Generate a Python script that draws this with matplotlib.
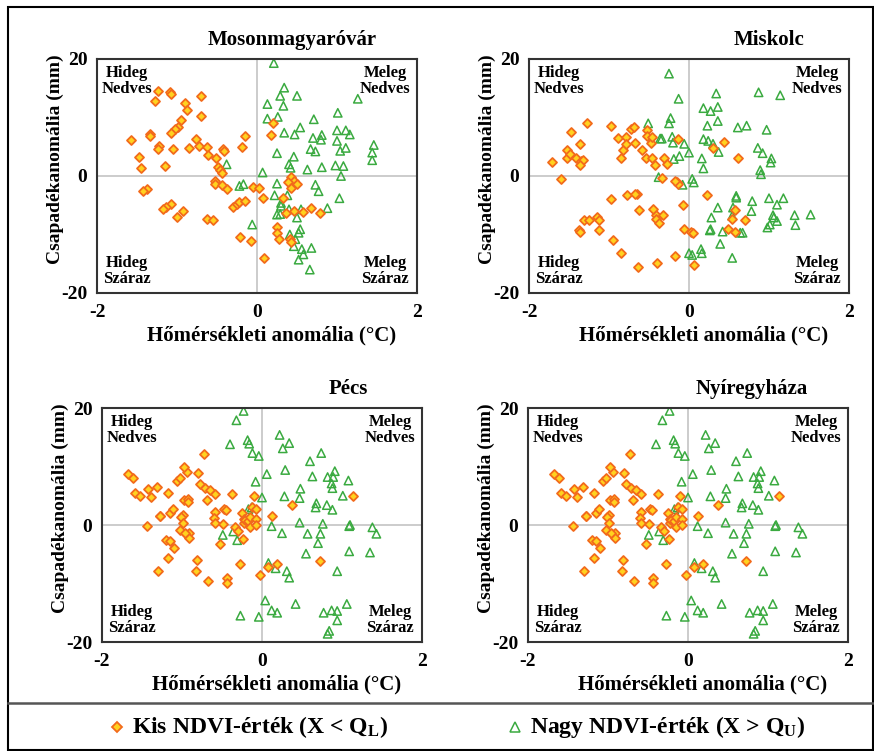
import matplotlib
matplotlib.use('Agg')
from matplotlib import pyplot as plt
from matplotlib.patches import Rectangle
from matplotlib.lines import Line2D

# Mosonmagyaróvár
moson_kis_x = [-1.24, -1.09, -1.07, -1.28, -0.70, -0.90, -0.87, -0.70, -0.95, -0.99,
               -1.02, -1.07, -1.34, -1.34, -1.58, -0.76, -1.23, -1.24, -1.05, -0.85,
               -0.72, -0.63, -0.61, -0.43, -0.41, -0.19, -0.15, -1.47, -1.45, -1.15,
               -0.51, -0.49, -0.46, -0.44, -0.53, -0.52, -0.44, -0.37, -1.38, -1.42,
               -1.08, -1.14, -1.18, -0.93, -1.00, -0.63, -0.55, -0.30, -0.25, -0.22,
               -0.15, -0.05, 0.02, 0.07, -0.21, -0.07, 0.09, 0.20, 0.18, 0.43,
               0.46, 0.50, 0.39, 0.42, 0.32, 0.25, 0.25, 0.28, 0.41, 0.43,
               0.36, 0.46, 0.57, 0.67, 0.79]
moson_kis_y = [14.6, 14.4, 14.1, 12.8, 13.6, 12.4, 11.2, 10.3, 9.5, 8.4,
               8.1, 7.3, 7.2, 6.8, 6.1, 6.4, 5.2, 4.7, 4.7, 4.8,
               5.1, 5.0, 3.6, 4.7, 4.2, 4.9, 6.8, 3.2, 1.4, 1.7,
               3.0, 1.5, 1.1, 0.5, -0.8, -1.3, -1.5, -2.3, -2.3, -2.6,
               -4.8, -5.3, -5.6, -5.9, -7.0, -7.3, -7.6, -5.3, -4.8, -4.4,
               -4.3, -1.8, -2.1, -3.8, -10.4, -11.1, -14.1, 9.0, 7.0, -0.2,
               -0.9, -1.4, -1.0, -2.1, -3.8, -8.7, -9.7, -10.7, -10.8, -11.3,
               -6.4, -6.0, -6.2, -5.4, -6.4]
moson_nagy_x = [0.21, 0.34, 0.29, 0.50, 1.26, 0.13, 0.33, 0.13, 0.26, 0.71,
                1.01, 0.54, 0.34, 0.47, 0.70, 0.81, 0.80, 1.00, 1.11, 1.16,
                1.00, 1.04, 1.11, 0.67, 0.73, 1.46, 1.44, 1.44, 0.25, 0.46,
                0.40, 0.42, 0.63, 0.81, 0.98, 1.08, 1.05, -0.38, 0.07, -0.17,
                -0.22, 0.73, 0.77, 1.03, 0.88, 0.25, 0.22, 0.38, 0.30, 0.30,
                0.40, 0.29, 0.25, 0.50, 0.55, -0.06, 0.41, 0.52, 0.54, 0.48,
                0.46, 0.56, 0.68, 0.58, 0.52, 0.66]
moson_nagy_y = [19.3, 15.1, 13.7, 13.7, 13.2, 12.3, 12.0, 9.8, 10.1, 9.7,
                10.8, 8.3, 7.4, 7.1, 6.5, 7.0, 6.2, 7.8, 7.8, 7.1,
                6.0, 4.3, 4.8, 4.6, 4.2, 5.3, 4.0, 2.7, 3.9, 3.3,
                2.0, 1.4, 1.1, 1.5, 1.8, 1.7, 0.0, 2.0, 0.6, -1.4,
                -1.7, -1.5, -2.6, -3.8, -5.5, -1.3, -3.3, -3.3, -4.6, -5.1,
                -5.7, -6.5, -6.6, -7.1, -5.7, -8.3, -10.0, -9.7, -9.1, -10.8,
                -12.0, -12.5, -12.3, -13.4, -14.3, -16.0]

# Miskolc
miskolc_kis_x = [-1.28, -1.48, -1.71, -1.52, -1.53, -1.49, -1.41, -1.35, -1.33, -1.36,
                 -1.36, -1.60, -0.98, -0.89, -0.85, -0.79, -0.82, -0.79, -0.73, -0.69,
                 -0.68, -0.59, -0.54, -0.52, -0.53, -0.47, -0.46, -0.46, -0.43, -0.31,
                 -0.28, -0.14, -0.34, -0.15, -0.14, -0.17, 0.30, 0.44, 0.61, 0.22,
                 -0.08, -0.41, -0.41, -0.37, -0.33, -0.45, -0.62, -0.77, -0.65, -0.67,
                 -0.98, -1.31, -1.25, -1.15, -1.12, -1.12, -1.38, -1.36, -0.95, -0.85,
                 -0.64, -0.40, -0.17, 0.06, -0.06, 0.03, 0.05, 0.54, 0.58, 0.70,
                 0.49, 0.57]
miskolc_kis_y = [9.0, 7.6, 2.4, 4.5, 3.0, 3.7, 3.0, 2.5, 2.8, 1.8,
                 5.4, -0.5, 8.6, 6.5, 3.0, 6.7, 4.4, 5.4, 8.1, 8.4,
                 5.7, 4.4, 3.0, 7.9, 6.9, 5.7, 6.7, 3.1, 1.9, 3.1,
                 2.1, 6.4, -0.3, -1.0, -1.3, -0.9, 4.8, 5.8, 3.1, -3.2,
                 -5.0, -6.6, -7.3, -8.0, -6.7, -5.7, -5.8, -3.3, -3.0, -3.0,
                 -3.9, -7.5, -7.6, -7.0, -7.5, -9.2, -9.2, -9.6, -11.0, -13.1,
                 -15.6, -14.9, -13.7, -15.2, -9.1, -9.6, -9.7, -7.4, -5.8, -7.6,
                 -9.1, -9.6]
miskolc_nagy_x = [-0.25, -0.13, 0.34, 0.87, 1.14, 0.18, 0.27, 0.36, 0.36, 0.23,
                  0.61, 0.72, 0.97, -0.23, -0.25, -0.51, -0.36, -0.34, -0.21, -0.20,
                  -0.06, 0.18, 0.24, 0.30, 0.37, 0.00, -0.12, -0.19, 0.16, 0.18,
                  0.86, 0.92, 1.03, 1.02, 0.89, 0.90, -0.38, -0.08, 0.04, 0.06,
                  0.59, 0.59, 0.36, 0.79, 0.78, 1.00, 1.10, 1.18, 1.05, 1.06,
                  1.10, 0.98, 1.01, 1.32, 1.52, 1.33, 0.28, 0.27, 0.26, 0.42,
                  0.54, 0.64, 0.67, 0.39, 0.00, 0.04, 0.15, 0.16, 0.54, 0.55]
miskolc_nagy_y = [17.5, 13.2, 14.1, 14.3, 13.8, 11.6, 11.1, 11.8, 9.4, 8.6,
                  8.3, 8.6, 7.9, 9.9, 9.0, 9.0, 6.4, 6.4, 6.7, 5.7,
                  5.5, 6.3, 6.0, 5.5, 4.1, 4.0, 3.4, 2.9, 3.0, 1.3,
                  4.8, 3.9, 3.0, 2.3, 1.0, 0.3, -0.2, -1.5, -0.5, -1.1,
                  -3.4, -3.7, -5.4, -4.3, -6.0, -3.8, -4.9, -3.8, -6.7, -7.1,
                  -7.7, -8.8, -8.3, -6.7, -6.6, -8.4, -7.1, -9.1, -9.3, -9.5,
                  -6.8, -9.7, -9.7, -11.6, -13.2, -13.5, -12.5, -13.2, -14.0, -5.4]

# Pécs
pecs_kis_x = [-1.67, -1.61, -1.59, -1.53, -1.39, -1.43, -1.31, -1.18, -1.28, -1.27,
              -1.15, -1.11, -1.44, -1.30, -1.17, -1.20, -1.15, -1.10, -0.99, -1.01,
              -0.99, -1.02, -0.95, -0.91, -0.91, -0.96, -0.97, -0.93, -0.92, -1.06,
              -1.02, -0.94, -0.98, -0.72, -0.80, -0.78, -0.71, -0.65, -0.59, -0.69,
              -0.81, -0.82, -0.68, -0.52, -0.44, -0.44, -0.59, -0.60, -0.59, -0.49,
              -0.48, -0.45, -0.37, -0.34, -0.30, -0.24, -0.23, -0.25, -0.23, -0.21,
              -0.17, -0.15, -0.15, -0.12, -0.10, -0.08, -0.08, -0.07, -0.27, -0.02,
              0.08, 0.19, 0.12, 0.38, 0.72, 1.14]
pecs_kis_y = [8.7, 8.0, 5.4, 5.0, 4.8, 6.1, 6.5, 5.5, 1.5, 1.6,
              2.0, 2.7, -0.2, -7.9, -5.6, -2.6, -2.7, -3.9, 1.7, 1.3,
              0.4, -0.9, -1.5, -1.3, -2.3, -1.3, 4.3, 4.4, 3.9, 7.5,
              8.1, 9.0, 10.0, 12.2, 8.9, 7.0, 6.3, 5.9, 5.3, 4.2,
              -6.0, -7.9, -9.5, -3.3, -9.0, -9.9, 2.3, 1.2, 0.3, 0.1,
              2.7, 2.6, 5.3, -0.4, -1.1, -2.4, 0.4, 2.0, 1.1, 0.8,
              0.6, -0.3, 1.4, 3.1, 5.0, 1.1, 0.0, 2.7, -6.7, -8.5,
              -7.1, -6.6, 1.5, 3.4, -6.2, 4.9]
pecs_nagy_x = [-0.23, -0.32, 0.22, 0.34, 0.26, -0.40, -0.18, -0.16, -0.12, -0.04,
               0.74, 0.60, 0.06, 0.29, 0.63, 0.82, 0.91, 0.89, 0.87, 0.88,
               1.08, 0.48, 0.47, 0.28, -0.08, 0.00, 1.01, 0.68, 0.67, 0.81,
               0.88, -0.13, -0.17, 0.47, 0.76, 1.09, 1.10, 1.38, 1.43, 0.12,
               0.25, 0.57, 0.73, 0.70, -0.49, -0.31, -0.36, 0.55, 1.09, 1.35,
               0.08, 0.17, 0.31, 0.34, 0.94, 0.04, 0.12, 0.19, 0.42, -0.27,
               -0.04, 0.77, 0.87, 0.94, 1.06, 0.94, 0.82, 0.84]
pecs_nagy_y = [19.5, 17.9, 15.4, 14.0, 13.1, 13.8, 14.5, 13.9, 12.3, 11.8,
               12.3, 10.9, 8.7, 9.4, 8.3, 8.2, 9.2, 8.2, 7.1, 6.3,
               7.6, 6.2, 4.6, 4.9, 7.4, 4.7, 5.0, 3.7, 3.0, 3.4,
               2.6, 3.0, 2.7, 0.4, 0.2, -0.2, 0.0, -0.4, -1.5, -0.2,
               -1.4, -1.5, -1.5, -3.1, -1.7, -2.6, -1.1, -4.9, -4.5, -4.7,
               -6.5, -7.4, -7.9, -9.0, -7.9, -12.9, -14.6, -15.0, -13.5, -15.5,
               -15.7, -15.0, -14.6, -14.7, -13.5, -16.3, -18.6, -18.1]

# Nyíregyháza - az ábrán ugyanazok a pontok, mint Pécsnél
nyir_kis_x = list(pecs_kis_x)
nyir_kis_y = list(pecs_kis_y)
nyir_nagy_x = list(pecs_nagy_x)
nyir_nagy_y = list(pecs_nagy_y)

stations = ["Mosonmagyaróvár", "Miskolc", "Pécs", "Nyíregyháza"]
kis_x = [moson_kis_x, miskolc_kis_x, pecs_kis_x, nyir_kis_x]
kis_y = [moson_kis_y, miskolc_kis_y, pecs_kis_y, nyir_kis_y]
nagy_x = [moson_nagy_x, miskolc_nagy_x, pecs_nagy_x, nyir_nagy_x]
nagy_y = [moson_nagy_y, miskolc_nagy_y, pecs_nagy_y, nyir_nagy_y]

plt.rcParams['font.family'] = ['Liberation Serif', 'DejaVu Serif']
plt.rcParams['font.weight'] = 'bold'
plt.rcParams['mathtext.default'] = 'regular'
plt.rcParams['axes.unicode_minus'] = False

W, H = 874, 751
fig = plt.figure(figsize=(W / 100, H / 100), dpi=100)

# bal felso sarok pixelben
axes_pos = [(97, 59), (529, 59), (102, 408), (528, 408)]
title_x = [0.61, 0.75, 0.77, 0.70]

kis_face = '#ffd21f'
kis_edge = '#f26a1b'
nagy_edge = '#3aaa40'

for i in range(4):
    l, t = axes_pos[i]
    ax = fig.add_axes([l / W, 1 - (t + 234) / H, 320 / W, 234 / H])
    ax.axhline(0, color='#c3c3c3', lw=1.2, zorder=1)
    ax.axvline(0, color='#c3c3c3', lw=1.2, zorder=1)
    ax.scatter(nagy_x[i], nagy_y[i], marker='^', s=36, facecolors='none',
               edgecolors=nagy_edge, linewidths=1.1, zorder=2)
    ax.scatter(kis_x[i], kis_y[i], marker='D', s=21, facecolors=kis_face,
               edgecolors=kis_edge, linewidths=1.3, zorder=3)
    ax.set_xlim(-2, 2)
    ax.set_ylim(-20, 20)
    ax.set_xticks([-2, 0, 2])
    ax.set_yticks([-20, 0, 20])
    ax.tick_params(axis='x', length=0, labelsize=14, pad=8)
    ax.tick_params(axis='y', length=0, labelsize=14, pad=7)
    for sp in ax.spines.values():
        sp.set_color('#333333')
        sp.set_linewidth(1.5)

    ax.text(title_x[i], 1.081, stations[i], transform=ax.transAxes,
            ha='center', va='center', fontsize=15)
    ax.text(-0.131, 0.57, "Csapadékanomália (mm)", transform=ax.transAxes,
            ha='center', va='center', rotation=90, fontsize=14)
    ax.text(0.545, -0.18, "Hőmérsékleti anomália (°C)", transform=ax.transAxes,
            ha='center', va='center', fontsize=15)

    ax.text(0.094, 0.975, "Hideg\nNedves", transform=ax.transAxes, ha='center',
            va='top', fontsize=12, linespacing=1.0)
    ax.text(0.90, 0.975, "Meleg\nNedves", transform=ax.transAxes, ha='center',
            va='top', fontsize=12, linespacing=1.0)
    ax.text(0.094, 0.025, "Hideg\nSzáraz", transform=ax.transAxes, ha='center',
            va='bottom', fontsize=12, linespacing=1.0)
    ax.text(0.90, 0.025, "Meleg\nSzáraz", transform=ax.transAxes, ha='center',
            va='bottom', fontsize=12, linespacing=1.0)

# keret es jelmagyarazat
fig.add_artist(Rectangle((8 / W, 0.001), (W - 9) / W, 1 - 7 / H - 0.001,
                         transform=fig.transFigure, fill=False, lw=1.5,
                         edgecolor='black'))
fig.add_artist(Line2D([8 / W, 1], [1 - 703 / H, 1 - 703 / H],
                      transform=fig.transFigure, color='#555555', lw=1.8))

ly = 1 - 727 / H
fig.add_artist(Line2D([117 / W], [ly], marker='D', ms=4.6, mfc=kis_face,
                      mec=kis_edge, mew=1.3, transform=fig.transFigure))
fig.text(132 / W, ly, "Kis NDVI-érték (X < Q$_\\mathregular{L}$)", ha='left',
         va='center', fontsize=17)
fig.add_artist(Line2D([515 / W], [ly], marker='^', ms=6.5, mfc='none',
                      mec=nagy_edge, mew=1.1, transform=fig.transFigure))
fig.text(530 / W, ly, "Nagy NDVI-érték (X > Q$_\\mathregular{U}$)", ha='left',
         va='center', fontsize=17)

plt.savefig('out.png', dpi=100)
